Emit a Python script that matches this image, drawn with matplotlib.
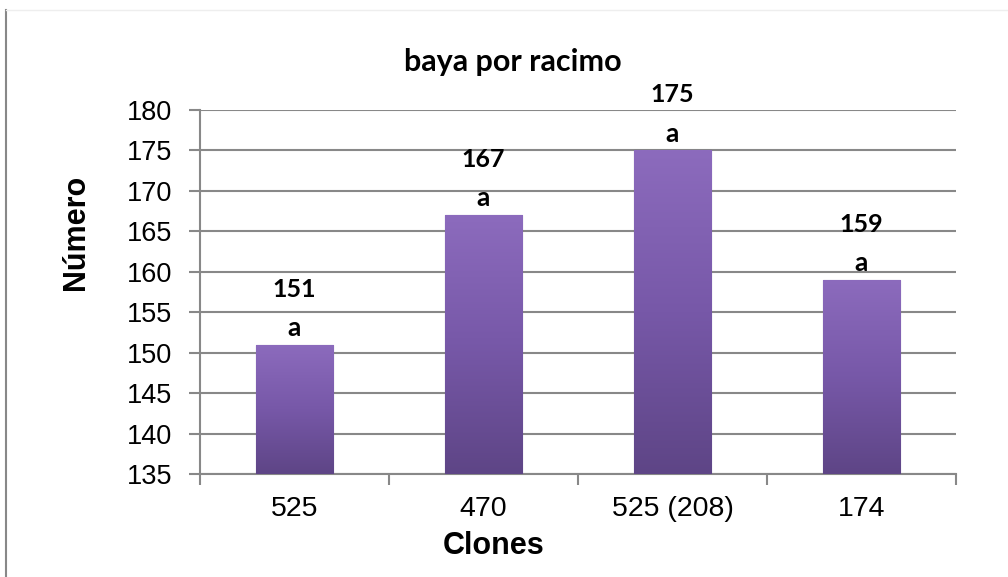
import numpy as np
import matplotlib
matplotlib.use("Agg")
import matplotlib.pyplot as plt
from matplotlib.lines import Line2D
from matplotlib.colors import LinearSegmentedColormap

categories = ["525", "470", "525 (208)", "174"]
values = [151, 167, 175, 159]
letters = ["a", "a", "a", "a"]
yticks = [135, 140, 145, 150, 155, 160, 165, 170, 175, 180]

W, H = 1008, 577
fig = plt.figure(figsize=(W / 100, H / 100), dpi=100)
ax = fig.add_axes([200 / W, 1 - 474 / H, (956 - 200) / W, (474 - 110) / H])

x = np.arange(len(categories))
bars = ax.bar(x, values, width=0.41, bottom=0, color="#7A5AAA",
              edgecolor="#5B4283", linewidth=0.8, zorder=3)

# vertical gradient inside each bar
cmap = LinearSegmentedColormap.from_list("pg", ["#5E4586", "#7758A8", "#8C6BBD"])
grad = np.linspace(0, 1, 256).reshape(-1, 1)
for b in bars:
    x0, w = b.get_x(), b.get_width()
    y1 = b.get_height()
    im = ax.imshow(grad, extent=[x0, x0 + w, 135, y1], origin="lower",
                   cmap=cmap, aspect="auto", zorder=3.5)
    im.set_clip_path(b)

ax.set_xlim(-0.5, len(categories) - 0.5)
ax.set_ylim(135, 180)
ax.set_yticks(yticks)
ax.tick_params(axis="y", labelsize=19.5, length=8, width=1.5, color="#888888", pad=12)
ax.set_xticks(x)
ax.set_xticklabels(categories)
ax.set_xticks(np.arange(-0.5, len(categories), 1), minor=True)
ax.tick_params(axis="x", which="major", length=0, labelsize=20.5, pad=16)
ax.tick_params(axis="x", which="minor", length=8, width=1.5, color="#888888")
for lab in ax.get_xticklabels() + ax.get_yticklabels():
    lab.set_fontfamily("Liberation Sans")

ax.grid(axis="y", color="#888888", linewidth=1.5, zorder=0)
ax.set_axisbelow(True)
for s in ["top", "right"]:
    ax.spines[s].set_visible(False)
ax.spines["left"].set_color("#888888")
ax.spines["left"].set_linewidth(1.5)
ax.spines["bottom"].set_color("#888888")
ax.spines["bottom"].set_linewidth(1.5)
ax.set_xlim(-0.5, len(categories) - 0.5)
ax.set_ylim(135, 180)

for xi, v, l in zip(x, values, letters):
    ax.annotate(l, (xi, v), xytext=(0, 12), textcoords="offset points",
                ha="center", va="center", fontsize=19, fontweight="bold",
                fontfamily="Lato", color="#000000", zorder=5)
    ax.annotate(str(v), (xi, v), xytext=(0, 40), textcoords="offset points",
                ha="center", va="center", fontsize=18, fontweight="bold",
                fontfamily="Lato", color="#000000", zorder=5)

fig.text(513 / W, 1 - 62 / H, "baya por racimo", ha="center", va="center",
         fontsize=22, fontweight="bold", fontfamily="Lato")
fig.text(76 / W, 1 - 232 / H, "Número", ha="center", va="center", rotation=90,
         fontsize=22, fontweight="bold", fontfamily="Liberation Sans")
fig.text(494 / W, 1 - 546 / H, "Clones", ha="center", va="center",
         fontsize=22, fontweight="bold", fontfamily="Liberation Sans")

# chart-area frame
fig.add_artist(Line2D([6 / W, 6 / W], [0, 1 - 10 / H], transform=fig.transFigure,
                      color="#888888", linewidth=1.5))
fig.add_artist(Line2D([6 / W, 1], [1 - 10 / H, 1 - 10 / H], transform=fig.transFigure,
                      color="#EEEEEE", linewidth=1.0))

fig.savefig("out.png", dpi=100)
